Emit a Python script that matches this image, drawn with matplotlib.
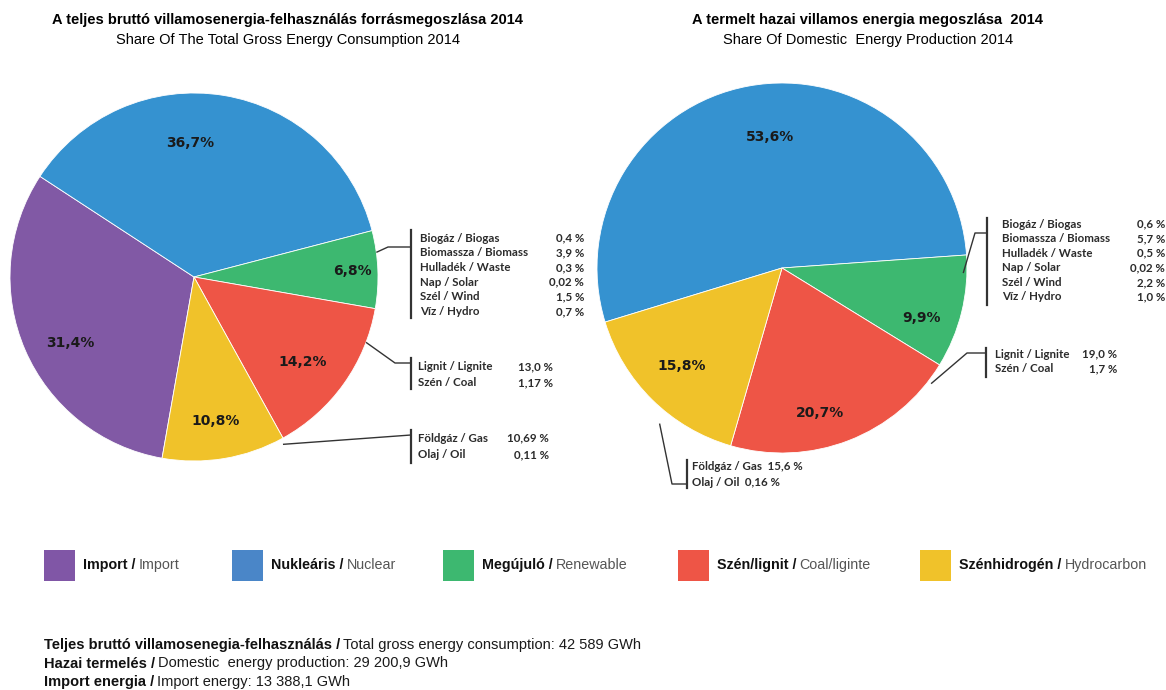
import numpy as np
import matplotlib
matplotlib.use('Agg')
import matplotlib.pyplot as plt
from matplotlib.patches import Rectangle

# --- data -------------------------------------------------------------
cat_hu = ['Import', 'Nukleáris', 'Megújuló', 'Szén/lignit', 'Szénhidrogén']
cat_en = ['Import', 'Nuclear', 'Renewable', 'Coal/liginte', 'Hydrocarbon']
colors = ['#8159A5', '#3592D0', '#3DB870', '#EE5546', '#F0C22A']
legend_colors = ['#8056A6', '#4A86C8', '#3DB870', '#EE5546', '#F0C22A']

# gross consumption: import, nuclear, renewable, coal, hydrocarbon
consumption_share = [31.4, 36.7, 6.8, 14.2, 10.8]
# domestic production: nuclear, renewable, coal, hydrocarbon
production_share = [53.6, 9.9, 20.7, 15.8]

renew_items = ['Biogáz / Biogas', 'Biomassza / Biomass', 'Hulladék / Waste',
               'Nap / Solar', 'Szél / Wind', 'Víz / Hydro']
renew_cons = ['0,4 %', '3,9 %', '0,3 %', '0,02 %', '1,5 %', '0,7 %']
renew_prod = ['0,6 %', '5,7 %', '0,5 %', '0,02 %', '2,2 %', '1,0 %']

coal_items = ['Lignit / Lignite', 'Szén / Coal']
coal_cons = ['13,0 %', '1,17 %']
coal_prod = ['19,0 %', '1,7 %']

gas_items = ['Földgáz / Gas', 'Olaj / Oil']
gas_cons = ['10,69 %', '0,11 %']
gas_prod = ['15,6 %', '0,16 %']

totals_hu = ['Teljes bruttó villamosenegia-felhasználás /',
             'Hazai termelés /', 'Import energia /']
totals_en = ['Total gross energy consumption: 42 589 GWh',
             'Domestic  energy production: 29 200,9 GWh',
             'Import energy: 13 388,1 GWh']

W, H = 1166, 690
NARROW = ['Liberation Sans Narrow', 'Liberation Sans', 'DejaVu Sans']
CALLOUT = ['Lato', 'DejaVu Sans']

fig = plt.figure(figsize=(W / 100, H / 100), dpi=100)
ax = fig.add_axes([0, 0, 1, 1])


def Y(y):
    # image row -> axis y (y up)
    return H - y


def pct_fmt(p):
    return f'{p:.1f}%'.replace('.', ',')


def draw_pie(values, cols, cx, cy, r, start, label_shift):
    wedges, _, autotexts = ax.pie(values, colors=cols, center=(cx, Y(cy)), radius=r,
                                  startangle=start, counterclock=False,
                                  autopct=pct_fmt, pctdistance=0.76,
                                  wedgeprops=dict(linewidth=0.6, edgecolor='white'))
    # nudge the percentage labels: (angle offset from wedge middle, distance)
    for w, t, (da, d) in zip(wedges, autotexts, label_shift):
        a = np.deg2rad((w.theta1 + w.theta2) / 2 + da)
        t.set_position((cx + d * r * np.cos(a), Y(cy) + d * r * np.sin(a)))
        t.set_fontsize(10)
        t.set_fontweight('bold')
        t.set_color('#1a1a1a')
    return wedges


def rim_point(cx, cy, r, angle, k):
    a = np.deg2rad(angle)
    return cx + k * r * np.cos(a), Y(cy) + k * r * np.sin(a)


def callout(start, path, bar_x, bar_y0, bar_y1, items, vals, tx, ty0, step, vx=None):
    xs = [start[0]] + [p[0] for p in path]
    ys = [start[1]] + [Y(p[1]) for p in path]
    ax.plot(xs, ys, color='#333333', lw=1.0, solid_capstyle='butt')
    ax.plot([bar_x, bar_x], [Y(bar_y0), Y(bar_y1)], color='#333333', lw=1.6)
    for i, (name, v) in enumerate(zip(items, vals)):
        yy = Y(ty0 + i * step)
        if vx is None:
            ax.text(tx, yy, name + '  ' + v, fontsize=8.3, fontweight='bold',
                    family=CALLOUT, color='#2b2b2b', va='center', ha='left')
        else:
            ax.text(tx, yy, name, fontsize=8.3, fontweight='bold', family=CALLOUT,
                    color='#2b2b2b', va='center', ha='left')
            ax.text(vx, yy, v, fontsize=8.3, fontweight='bold', family=CALLOUT,
                    color='#2b2b2b', va='center', ha='right')


# --- left pie: gross consumption --------------------------------------
lcx, lcy, lr = 194, 277, 184
draw_pie(consumption_share, colors, lcx, lcy, lr, 260,
         [(4.6, 0.76), (11, 0.73), (0, 0.86), (-2.7, 0.75), (-1, 0.79)])

callout(rim_point(lcx, lcy, lr, 7.7, 1.0), [(388, 247), (411, 247)],
        411, 230, 318, renew_items, renew_cons, 420, 238, 14.7, vx=584)
callout(rim_point(lcx, lcy, lr, -20.8, 1.0), [(395, 363), (411, 363)],
        411, 358, 389, coal_items, coal_cons, 418, 367, 15.5, vx=553)
callout(rim_point(lcx, lcy, lr, -62, 1.03), [(411, 435)],
        411, 430, 463, gas_items, gas_cons, 418, 438, 16.5, vx=549)

# --- right pie: domestic production -----------------------------------
rcx, rcy, rr = 782, 268, 185
draw_pie(production_share, colors[1:], rcx, rcy, rr, 197,
         [(-5.3, 0.71), (-5.9, 0.80), (-6.5, 0.81), (-1, 0.76)])

callout(rim_point(rcx, rcy, rr, -1.6, 0.98), [(975, 233), (987, 233)],
        987, 218, 305, renew_items, renew_prod, 1002, 224, 14.6, vx=1165)
callout(rim_point(rcx, rcy, rr, -37.8, 1.02), [(967, 353), (986, 353)],
        986, 348, 377, coal_items, coal_prod, 995, 354, 15.0, vx=1117)
callout(rim_point(rcx, rcy, rr, 231.8, 1.07), [(672, 484), (687, 484)],
        687, 460, 488, gas_items, gas_prod, 692, 466, 17.0)

# pie() resets limits and aspect; put the axis back to pixel units
ax.set_xlim(0, W)
ax.set_ylim(0, H)
ax.set_aspect('auto')
ax.axis('off')

# --- titles ------------------------------------------------------------
ax.text(288, Y(20), 'A teljes bruttó villamosenergia-felhasználás forrásmegoszlása 2014',
        ha='center', va='center', fontsize=10.5, fontweight='bold', family=NARROW)
ax.text(288, Y(40), 'Share Of The Total Gross Energy Consumption 2014',
        ha='center', va='center', fontsize=10.5, family=NARROW)
ax.text(867, Y(20), 'A termelt hazai villamos energia megoszlása  2014',
        ha='center', va='center', fontsize=10.5, fontweight='bold', family=NARROW)
ax.text(868, Y(40), 'Share Of Domestic  Energy Production 2014',
        ha='center', va='center', fontsize=10.5, family=NARROW)

# --- legend ------------------------------------------------------------
fig.canvas.draw()
renderer = fig.canvas.get_renderer()


def two_part(x, y, bold, rest, size, rest_color):
    t = ax.text(x, y, bold, fontsize=size, fontweight='bold', family=NARROW,
                color='#111111', va='center', ha='left')
    bb = t.get_window_extent(renderer)
    ax.text(bb.x1 + 3, y, rest, fontsize=size, family=NARROW,
            color=rest_color, va='center', ha='left')


legend_x = [44, 232, 443, 678, 920]
for lx, c, hu, en in zip(legend_x, legend_colors, cat_hu, cat_en):
    ax.add_patch(Rectangle((lx, Y(581)), 31, 31, facecolor=c, edgecolor='none'))
    two_part(lx + 39, Y(565), hu + ' /', en, 10.3, '#555555')

# --- totals ------------------------------------------------------------
for i, (hu, en) in enumerate(zip(totals_hu, totals_en)):
    two_part(44, Y(645 + i * 18.5), hu, en, 10.5, '#1a1a1a')

fig.savefig('out.png', dpi=100, facecolor='white')
